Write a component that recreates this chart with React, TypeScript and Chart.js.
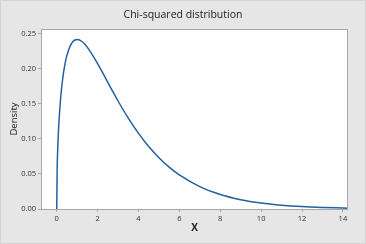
import React, { useEffect, useRef } from "react";
import { Chart, registerables } from "chart.js";

Chart.register(...registerables);

const TITLE = "Chi-squared distribution";
const X_LABEL = "X";
const Y_LABEL = "Density";

const xValues = [0, 0.02, 0.05, 0.1, 0.2, 0.3, 0.4, 0.5, 0.75, 1, 1.25, 1.5, 2, 2.5, 3, 3.5, 4, 4.5, 5, 5.5, 6, 7, 8, 9, 10, 11, 12, 13, 14, 14.25];
const densityValues = [0, 0.0559, 0.087, 0.12, 0.1614, 0.1881, 0.2066, 0.2197, 0.2375, 0.242, 0.2388, 0.2308, 0.2076, 0.1807, 0.1542, 0.1297, 0.108, 0.0892, 0.0732, 0.0598, 0.0487, 0.0319, 0.0207, 0.0133, 0.0085, 0.0054, 0.0034, 0.0022, 0.0014, 0.0012];

const xTicks = [0, 2, 4, 6, 8, 10, 12, 14];
const yTicks = [0, 0.05, 0.1, 0.15, 0.2, 0.25];

const FONT = "'Open Sans', 'DejaVu Sans', sans-serif";

export default function App() {
  const ref = useRef<HTMLCanvasElement | null>(null);

  useEffect(() => {
    document.body.style.margin = "0";
    const canvas = ref.current;
    if (!canvas) return;

    const framePlugin = {
      id: "frame",
      beforeDraw(chart: any) {
        const ctx = chart.ctx;
        const w = chart.width;
        const h = chart.height;
        ctx.save();
        ctx.fillStyle = "#e6e6e6";
        ctx.fillRect(0, 0, w, h);
        ctx.strokeStyle = "#d4d4d4";
        ctx.lineWidth = 1;
        ctx.strokeRect(0.5, 0.5, w - 1, h - 1);
        const a = chart.chartArea;
        ctx.fillStyle = "#ffffff";
        ctx.fillRect(a.left, a.top, a.right - a.left, a.bottom - a.top);
        ctx.restore();
      },
      afterDraw(chart: any) {
        const ctx = chart.ctx;
        const a = chart.chartArea;
        ctx.save();
        ctx.strokeStyle = "#a8a8a8";
        ctx.lineWidth = 1;
        ctx.strokeRect(Math.round(a.left) + 0.5, Math.round(a.top) + 0.5, Math.round(a.right - a.left) - 1, Math.round(a.bottom - a.top));
        ctx.fillStyle = "#1a1a1a";
        ctx.textAlign = "center";
        ctx.textBaseline = "middle";
        ctx.font = `10.5px ${FONT}`;
        ctx.fillText(TITLE, 183, 15);
        ctx.font = `bold 10px ${FONT}`;
        ctx.fillText(X_LABEL, (a.left + a.right) / 2, 228);
        ctx.save();
        ctx.translate(14, (a.top + a.bottom) / 2);
        ctx.rotate(-Math.PI / 2);
        ctx.font = `9.5px ${FONT}`;
        ctx.fillText(Y_LABEL, 0, 0);
        ctx.restore();
        ctx.restore();
      },
    };

    const chart = new Chart(canvas, {
      type: "line",
      data: {
        datasets: [
          {
            data: xValues.map((x, i) => ({ x, y: densityValues[i] })),
            borderColor: "#2460a0",
            borderWidth: 1.5,
            pointRadius: 0,
            fill: false,
            cubicInterpolationMode: "monotone",
          },
        ],
      },
      options: {
        animation: false,
        responsive: false,
        maintainAspectRatio: false,
        devicePixelRatio: 1,
        layout: { padding: { top: 29, right: 18, left: 0, bottom: 0 } },
        plugins: { legend: { display: false }, title: { display: false }, tooltip: { enabled: false } },
        scales: {
          x: {
            type: "linear",
            min: -0.77,
            max: 14.25,
            afterBuildTicks: (scale: any) => {
              scale.ticks = xTicks.map((v) => ({ value: v }));
            },
            afterFit: (scale: any) => {
              scale.height = 35;
            },
            grid: { drawOnChartArea: false, tickLength: 3, color: "#a8a8a8" },
            border: { display: false },
            ticks: {
              padding: 2,
              color: "#333333",
              font: { size: 7.5, family: FONT },
              maxRotation: 0,
              callback: (v: any) => String(v),
            },
          },
          y: {
            type: "linear",
            min: 0,
            max: 0.257,
            afterBuildTicks: (scale: any) => {
              scale.ticks = yTicks.map((v) => ({ value: v }));
            },
            afterFit: (scale: any) => {
              scale.width = 41;
            },
            grid: { drawOnChartArea: false, tickLength: 3, color: "#a8a8a8" },
            border: { display: false },
            ticks: {
              padding: 2,
              color: "#333333",
              font: { size: 7.5, family: FONT },
              callback: (v: any) => Number(v).toFixed(2),
            },
          },
        },
      },
      plugins: [framePlugin],
    } as any);

    return () => chart.destroy();
  }, []);

  return (
    <div style={{ position: "absolute", left: 0, top: 0, width: 366, height: 244 }}>
      <canvas ref={ref} width={366} height={244} style={{ width: 366, height: 244, display: "block" }} />
    </div>
  );
}
